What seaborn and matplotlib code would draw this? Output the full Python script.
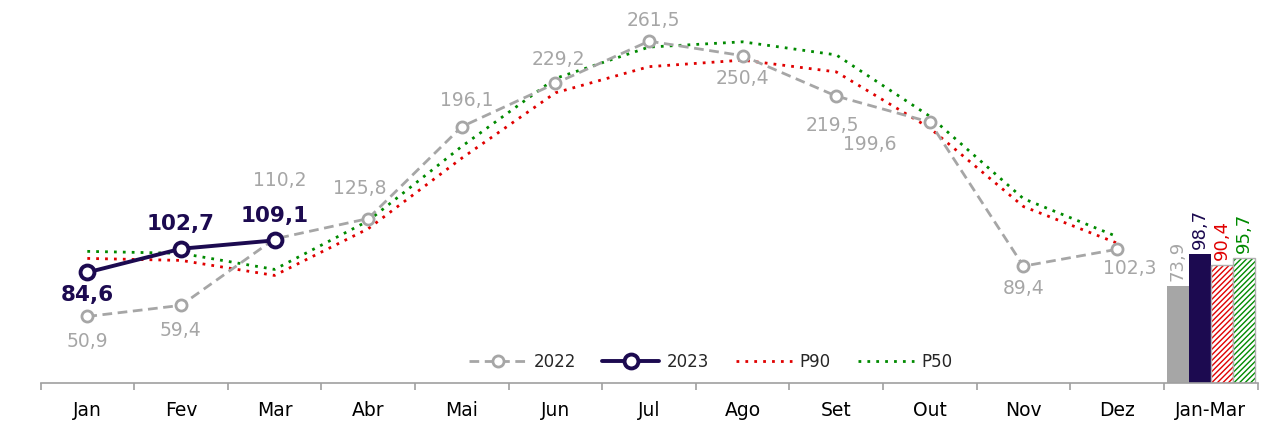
import numpy as np
import pandas as pd
import matplotlib
matplotlib.use("Agg")
import matplotlib.pyplot as plt
import seaborn as sns

# data
months = ["Jan", "Fev", "Mar", "Abr", "Mai", "Jun", "Jul", "Ago", "Set", "Out", "Nov", "Dez"]
v2022 = [50.9, 59.4, 110.2, 125.8, 196.1, 229.2, 261.5, 250.4, 219.5, 199.6, 89.4, 102.3]
v2023 = [84.6, 102.7, 109.1]
p90 = [95.3, 93.8, 82.3, 118.0, 172.0, 222.0, 242.0, 247.0, 238.0, 195.0, 135.0, 107.0]
p50 = [100.7, 99.2, 86.9, 124.0, 181.0, 233.0, 257.0, 261.0, 251.0, 204.0, 141.0, 112.0]
bar_label = "Jan-Mar"
bar_names = ["2022", "2023", "P90", "P50"]
bar_values = [73.9, 98.7, 90.4, 95.7]

GRAY = "#A6A6A6"
NAVY = "#1C0A50"
RED = "#E00000"
GREEN = "#008A00"

sns.set_style("white")
plt.rcParams["font.family"] = ["DejaVu Sans"]
plt.rcParams["hatch.linewidth"] = 1.0

fig = plt.figure(figsize=(12.8, 4.28), dpi=100)
ax = fig.add_axes([40.5 / 1280, 45 / 428, 1217 / 1280, 383 / 428])

x = np.arange(len(months))
fmt = lambda v: f"{v:.1f}".replace(".", ",")

sns.lineplot(x=x, y=p90, ax=ax, color=RED, linestyle=(0, (1, 2.2)), linewidth=2, label="P90")
sns.lineplot(x=x, y=p50, ax=ax, color=GREEN, linestyle=(0, (1, 2.2)), linewidth=2, label="P50")
sns.lineplot(x=x, y=v2022, ax=ax, color=GRAY, linestyle=(0, (3.5, 2)), linewidth=2,
             marker="o", markersize=8, markerfacecolor="white", markeredgecolor=GRAY,
             markeredgewidth=2, label="2022")
sns.lineplot(x=x[:len(v2023)], y=v2023, ax=ax, color=NAVY, linewidth=2.8,
             marker="o", markersize=10, markerfacecolor="white", markeredgecolor=NAVY,
             markeredgewidth=2.8, label="2023")

# labels for 2022
off22 = [(0, -25), (0, -25), (5, 58), (-8, 30), (5, 26), (3, 24), (4, 21), (0, -23),
         (-4, -29), (-60, -22), (0, -22), (13, -19)]
for xi, v, (dx, dy) in zip(x, v2022, off22):
    ax.annotate(fmt(v), (xi, v), xytext=(dx, dy), textcoords="offset pixels",
                ha="center", va="center", color=GRAY, fontsize=13.5)

off23 = [(0, -23), (0, 25), (0, 24)]
for xi, v, (dx, dy) in zip(x, v2023, off23):
    ax.annotate(fmt(v), (xi, v), xytext=(dx, dy), textcoords="offset pixels",
                ha="center", va="center", color=NAVY, fontsize=15.5, fontweight="bold")

# Jan-Mar bars
bpos = len(months)
w = 0.235
colors = [GRAY, NAVY, RED, GREEN]
for i, (name, v, c) in enumerate(zip(bar_names, bar_values, colors)):
    xb = bpos + (i - 1.5) * w
    if i < 2:
        ax.bar(xb, v, width=w, color=c, edgecolor="none")
    else:
        ax.bar(xb, v, width=w, facecolor="white", edgecolor=c, hatch="//////", linewidth=0)
        ax.bar(xb, v, width=w, fill=False, edgecolor="#B0B0B0", linewidth=1)
    ax.annotate(fmt(v), (xb, v), xytext=(0, 5), textcoords="offset pixels",
                ha="center", va="bottom", rotation=90, color=c, fontsize=13)

ax.set_xlim(-0.5, bpos + 0.5)
ax.set_ylim(0, 293)
ax.set_xticks(list(x) + [bpos])
ax.set_xticklabels(months + [bar_label], fontsize=13.5)
ax.set_xticks(np.arange(-0.5, bpos + 1, 1), minor=True)
ax.tick_params(axis="x", which="major", bottom=False, length=0, pad=13, colors="black")
ax.tick_params(axis="x", which="minor", bottom=True, length=5, width=1.2,
               color="#A0A0A0", direction="out")
ax.set_yticks([])
ax.set_xlabel("")
ax.set_ylabel("")
for s in ["left", "right", "top"]:
    ax.spines[s].set_visible(False)
ax.spines["bottom"].set_color("#A0A0A0")
ax.spines["bottom"].set_linewidth(1.2)

h, l = ax.get_legend_handles_labels()
order = [l.index(n) for n in ["2022", "2023", "P90", "P50"]]
ax.legend([h[i] for i in order], [l[i] for i in order], ncol=4, frameon=False,
          loc="center", bbox_to_anchor=(0.551, 0.055), fontsize=12, handlelength=3.4,
          numpoints=1, columnspacing=1.6, handletextpad=0.45)

fig.savefig("out.png", dpi=100)
